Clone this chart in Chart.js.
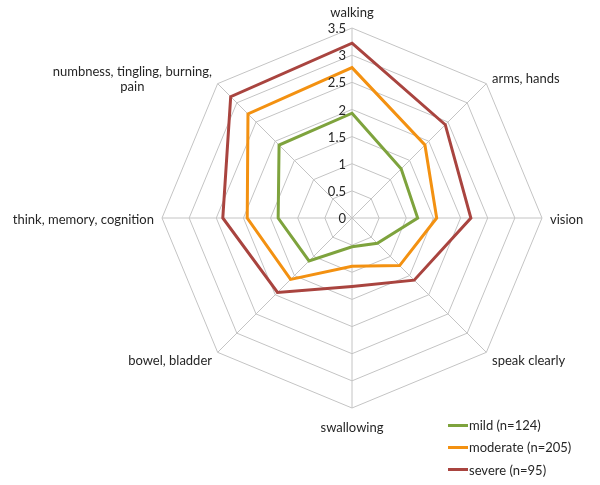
<!DOCTYPE html>
<html>
<head>
<meta charset="utf-8">
<script src="https://cdn.jsdelivr.net/npm/chart.js@4"></script>
<style>
  body { margin: 0; background: #fff; }
  #wrap { position: relative; width: 600px; height: 485px; }
  #legend { position: absolute; left: 448px; top: 414px; font-family: Lato, sans-serif; font-size: 13px; color: #262626; }
  .item { display: flex; align-items: center; height: 22.3px; }
  .swatch { width: 20px; height: 3px; margin-right: 1px; }
</style>
</head>
<body>
<div id="wrap">
  <canvas id="radar" width="600" height="485"></canvas>
  <div id="legend"></div>
</div>
<script>
const categories = ['walking', 'arms, hands', 'vision', 'speak clearly', 'swallowing',
  'bowel, bladder', 'think, memory, cognition', ['numbness, tingling, burning,', 'pain']];
const tickValues = [0, 0.5, 1, 1.5, 2, 2.5, 3, 3.5];

const mild = [1.93, 1.28, 1.21, 0.66, 0.53, 1.12, 1.36, 1.90];
const moderate = [2.77, 1.90, 1.56, 1.24, 0.89, 1.60, 1.93, 2.71];
const severe = [3.22, 2.43, 2.19, 1.62, 1.26, 1.94, 2.38, 3.16];

const seriesNames = ['mild (n=124)', 'moderate (n=205)', 'severe (n=95)'];
const seriesColors = ['#7ea33d', '#f39111', '#a9443f'];

const FONT = 'Lato, sans-serif';

// point labels + tick labels drawn next to the axis like the original
const labelPlugin = {
  id: 'excelLabels',
  afterDraw(chart) {
    const scale = chart.scales.r;
    const ctx = chart.ctx;
    ctx.save();
    ctx.fillStyle = '#262626';
    ctx.font = '13px ' + FONT;

    // tick labels, right aligned just left of the vertical axis
    ctx.textAlign = 'right';
    ctx.textBaseline = 'middle';
    scale.ticks.forEach(t => {
      const d = scale.getDistanceFromCenterForValue(t.value);
      ctx.fillText(String(t.value), scale.xCenter - 6, scale.yCenter - d + 1);
    });

    const lineH = 15;
    chart.data.labels.forEach((label, i) => {
      const lines = Array.isArray(label) ? label : [label];
      const pos = scale.getPointPosition(i, scale.drawingArea + 8);
      const deg = (i * 360 / chart.data.labels.length) % 360;
      const widths = lines.map(l => ctx.measureText(l).width);
      const maxW = Math.max(...widths);
      const h = lines.length * lineH;

      let cx;
      if (deg === 0 || deg === 180) cx = pos.x;
      else if (deg < 180) cx = pos.x + maxW / 2;
      else cx = pos.x - maxW / 2;

      let top;
      if (deg === 0) top = pos.y - h;
      else if (deg === 180) top = pos.y + 4;
      else if (deg === 90 || deg === 270) top = pos.y - h / 2 + 2;
      else if (deg < 90 || deg > 270) top = pos.y - h / 2 + 1;
      else top = pos.y - h / 2 + 3;

      ctx.textAlign = 'center';
      ctx.textBaseline = 'middle';
      lines.forEach((l, k) => ctx.fillText(l, cx, top + lineH * k + lineH / 2));
    });
    ctx.restore();
  }
};

const ctx = document.getElementById('radar');
new Chart(ctx, {
  type: 'radar',
  data: {
    labels: categories,
    datasets: [
      { label: seriesNames[0], data: mild, borderColor: seriesColors[0] },
      { label: seriesNames[1], data: moderate, borderColor: seriesColors[1] },
      { label: seriesNames[2], data: severe, borderColor: seriesColors[2] },
    ].map(ds => Object.assign(ds, {
      borderWidth: 3,
      fill: false,
      backgroundColor: 'transparent',
      pointRadius: 0,
      pointHoverRadius: 0,
      tension: 0,
      borderJoinStyle: 'miter',
    })),
  },
  options: {
    responsive: false,
    animation: false,
    layout: { padding: { left: 162, top: 28, right: 58, bottom: 77 } },
    plugins: { legend: { display: false }, tooltip: { enabled: false } },
    scales: {
      r: {
        min: 0,
        max: 3.5,
        afterBuildTicks(scale) {
          scale.ticks = tickValues.map(v => ({ value: v }));
        },
        ticks: { display: false },
        pointLabels: { display: false },
        grid: { color: '#c4c4c4', lineWidth: 1 },
        angleLines: { color: '#c4c4c4', lineWidth: 1 },
      },
    },
  },
  plugins: [labelPlugin],
});

const legendEl = document.getElementById('legend');
seriesNames.forEach((name, i) => {
  const row = document.createElement('div');
  row.className = 'item';
  row.innerHTML = '<span class="swatch" style="background:' + seriesColors[i] + '"></span><span>' + name + '</span>';
  legendEl.appendChild(row);
});
</script>
</body>
</html>
